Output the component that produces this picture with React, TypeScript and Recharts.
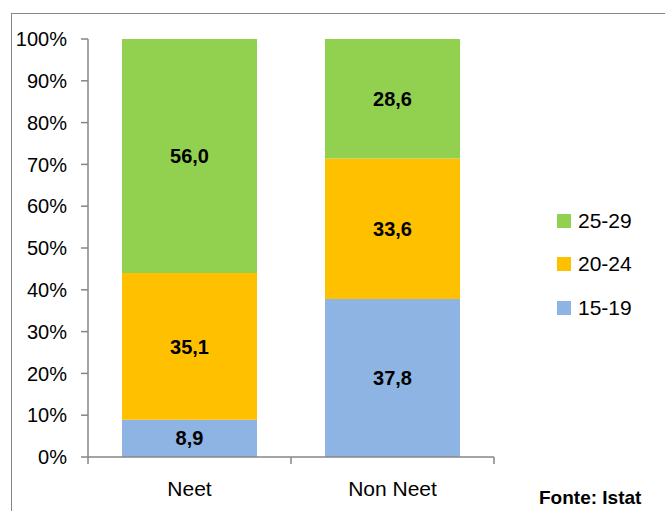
import React from "react";
import { BarChart, Bar, XAxis, YAxis, LabelList, usePlotArea } from "recharts";

const categories = ["Neet", "Non Neet"];
const s1519 = [8.9, 37.8];
const s2024 = [35.1, 33.6];
const s2529 = [56.0, 28.6];
const yTicks = [0, 10, 20, 30, 40, 50, 60, 70, 80, 90, 100];
const seriesNames = ["15-19", "20-24", "25-29"];
const colors = ["#8EB4E3", "#FFC000", "#92D050"];

const data = categories.map((c, i) => ({
  name: c,
  a: s1519[i],
  b: s2024[i],
  c: s2529[i],
}));

const FONT = "'Liberation Sans', Arial, sans-serif";

function XTicks() {
  const p = usePlotArea();
  if (!p) return null;
  const y0 = p.y + p.height;
  const xs = [p.x, p.x + p.width / 2, p.x + p.width];
  return (
    <g>
      {xs.map((x, i) => (
        <line key={i} x1={x} x2={x} y1={y0} y2={y0 + 7} stroke="#868686" strokeWidth={1.5} />
      ))}
    </g>
  );
}

const fmt = (v: any) => Number(v).toFixed(1).replace(".", ",");

function LegendBox() {
  const items = [2, 1, 0];
  return (
    <div style={{ position: "absolute", left: 557, top: 199, fontFamily: FONT, fontSize: 21, color: "#000" }}>
      {items.map((k) => (
        <div key={k} style={{ display: "flex", alignItems: "center", height: 43.5 }}>
          <div style={{ width: 14, height: 14, background: colors[k], marginRight: 7 }} />
          <span>{seriesNames[k]}</span>
        </div>
      ))}
    </div>
  );
}

const labelStyle = { fill: "#000", fontWeight: "bold", fontSize: 20, fontFamily: FONT };

export default function App() {
  return (
    <div style={{ position: "absolute", left: 0, top: 0, width: 665, height: 511, background: "#fff", overflow: "hidden" }}>
      <div style={{ position: "absolute", left: 11, top: 13, width: 700, height: 600, border: "1.5px solid #868686", boxSizing: "border-box" }} />
      <div style={{ position: "absolute", left: 0, top: 0 }}>
        <BarChart
          width={665}
          height={511}
          data={data}
          margin={{ top: 39, right: 171, bottom: 0, left: 0 }}
        >
          <YAxis
            type="number"
            domain={[0, 100]}
            ticks={yTicks}
            interval={0}
            width={88}
            tickFormatter={(v) => `${v}%`}
            tick={{ fill: "#000", fontSize: 20, fontFamily: FONT }}
            tickSize={7}
            tickMargin={14}
            axisLine={{ stroke: "#868686", strokeWidth: 1.5 }}
            tickLine={{ stroke: "#868686", strokeWidth: 1.5 }}
          />
          <XAxis
            dataKey="name"
            height={54}
            tick={{ fill: "#000", fontSize: 21, fontFamily: FONT }}
            tickLine={false}
            tickMargin={18}
            axisLine={{ stroke: "#868686", strokeWidth: 1.5 }}
          />
          <Bar dataKey="a" stackId="s" fill={colors[0]} isAnimationActive={false} barSize={135}>
            <LabelList dataKey="a" position="center" formatter={fmt} style={labelStyle} />
          </Bar>
          <Bar dataKey="b" stackId="s" fill={colors[1]} isAnimationActive={false} barSize={135}>
            <LabelList dataKey="b" position="center" formatter={fmt} style={labelStyle} />
          </Bar>
          <Bar dataKey="c" stackId="s" fill={colors[2]} isAnimationActive={false} barSize={135}>
            <LabelList dataKey="c" position="center" formatter={fmt} style={labelStyle} />
          </Bar>
          <XTicks />
        </BarChart>
      </div>
      <LegendBox />
      <div style={{ position: "absolute", left: 539, top: 487, fontFamily: FONT, fontWeight: "bold", fontSize: 19, color: "#000", whiteSpace: "nowrap" }}>
        Fonte: Istat
      </div>
    </div>
  );
}
